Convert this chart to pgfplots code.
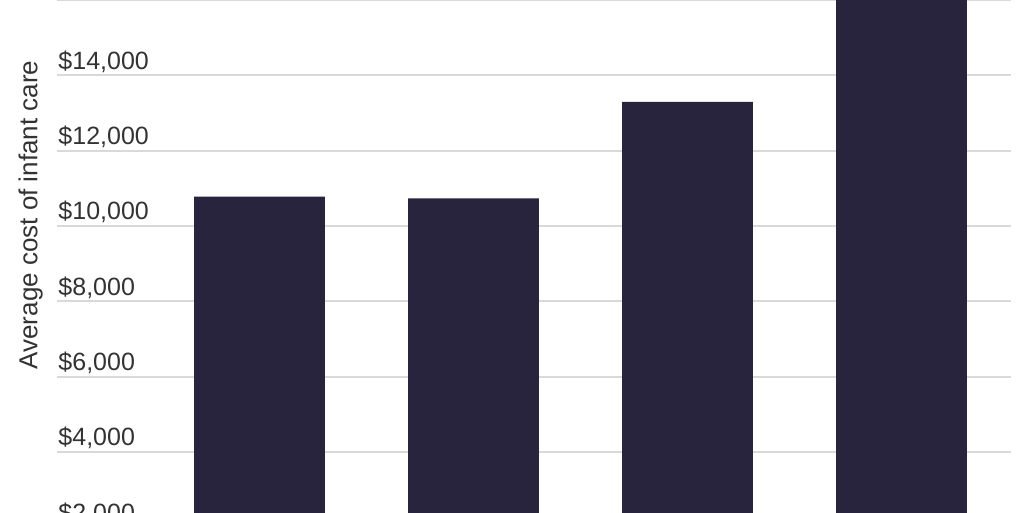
\documentclass[border=0pt]{standalone}
\usepackage{pgfplots}
\pgfplotsset{compat=1.18}
\usepackage{fontspec}
\setmainfont{Liberation Sans}
\definecolor{barc}{HTML}{29243D}
\definecolor{gridc}{HTML}{D9D9D9}
\definecolor{txt}{HTML}{333333}
\begin{document}
\begin{tikzpicture}
\clip (0,0) rectangle (1024pt,512pt);
\begin{axis}[
  at={(57pt,-15.3pt)}, anchor=south west,
  scale only axis, width=954pt, height=527.3pt,
  xmin=-0.9463, xmax=3.5117,
  ymin=2000, ymax=16000,
  axis line style={draw=none},
  xtick=\empty,
  ytick={2000,4000,6000,8000,10000,12000,14000},
  yticklabels={{\$2,000},{\$4,000},{\$6,000},{\$8,000},{\$10,000},{\$12,000},{\$14,000}},
  extra y ticks={16000}, extra y tick labels={},
  major tick length=0pt,
  ymajorgrids,
  major grid style={draw=gridc, line width=2pt},
  yticklabel style={anchor=base west, inner sep=0pt, xshift=1.3pt, yshift=6pt, font=\fontsize{25}{30}\selectfont, text=txt},
  ylabel={Average cost of infant care},
  ylabel style={at={(axis description cs:-0.0205,0.5923)}, anchor=base, inner sep=0pt, font=\fontsize{26}{30}\selectfont, text=txt},
  ybar, bar width=0.612, bar shift=0pt,
  clip=true,
]
\addplot[fill=barc, draw=none] coordinates {(0,10778) (1,10735) (2,13292) (3,16800)};
\end{axis}
\end{tikzpicture}
\end{document}
